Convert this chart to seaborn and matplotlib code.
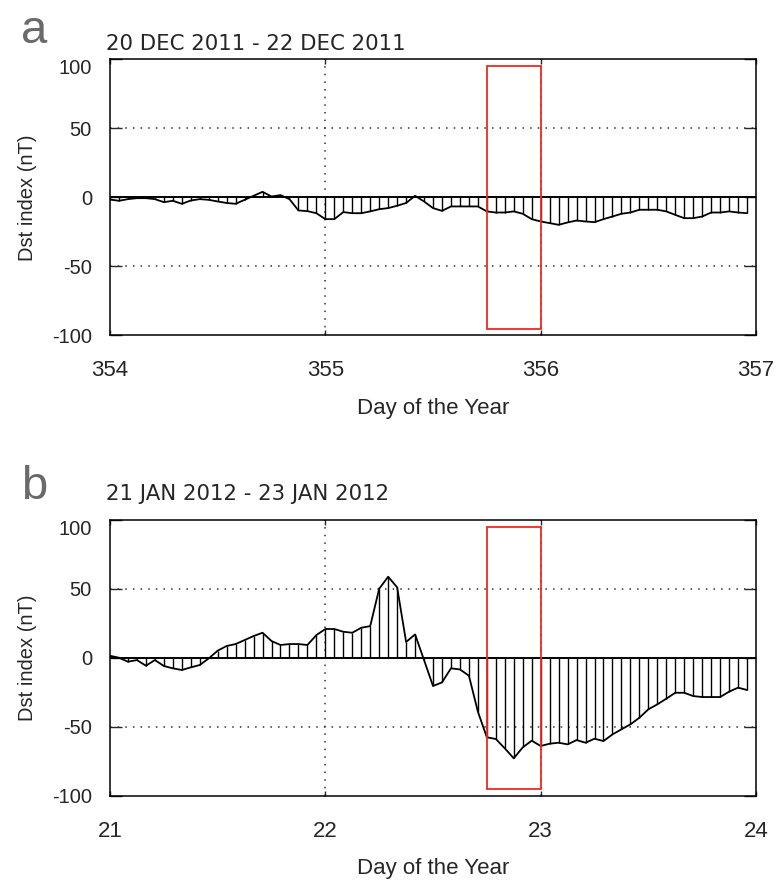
import numpy as np
import pandas as pd
import matplotlib
matplotlib.use("Agg")
from matplotlib import pyplot as plt
from matplotlib import font_manager
from matplotlib.patches import Rectangle
import seaborn as sns

# ------------------------------------------------------------
# Hourly Dst index (nT)
# ------------------------------------------------------------
DEC_START_DAY = 354
JAN_START_DAY = 21

dst_dec = [
    -1.5, -2.4, -1.2, -0.5, -0.5, -1.2, -3.4, -2.4, -4.6, -2.2, -1.2, -1.7,
    -2.9, -4.0, -4.6, -1.7, 1.2, 4.1, 0.7, 1.7, -1.2, -9.4, -9.9, -11.4,
    -15.7, -15.7, -10.6, -11.4, -11.4, -10.1, -8.5, -7.7, -6.0, -4.0, 1.2, -2.9,
    -7.7, -9.7, -6.5, -6.5, -6.5, -6.5, -10.1, -10.9, -10.9, -10.1, -11.8, -15.7,
    -17.4, -18.6, -19.8, -18.1, -16.7, -17.4, -17.9, -15.7, -13.8, -11.8, -10.9, -8.9,
    -8.9, -8.9, -10.1, -12.6, -15.0, -15.0, -13.8, -10.9, -10.9, -10.1, -10.9, -11.4,
]

dst_jan = [
    1.4, 0.0, -2.9, -1.7, -5.8, -1.7, -6.0, -7.7, -8.9, -7.0, -5.3, -0.5,
    5.1, 8.5, 9.9, 12.8, 15.7, 18.1, 12.1, 9.2, 9.9, 9.9, 9.2, 16.4,
    20.8, 20.8, 18.8, 18.1, 21.7, 22.9, 50.0, 58.7, 51.0, 11.4, 16.9, -1.7,
    -20.5, -17.9, -7.7, -8.5, -13.0, -39.1, -57.7, -58.9, -65.7, -72.9, -65.0, -60.1,
    -64.0, -62.3, -61.6, -62.8, -59.7, -61.6, -58.7, -60.4, -55.6, -51.9, -48.3, -43.5,
    -37.4, -33.8, -29.7, -25.4, -25.4, -27.8, -28.5, -28.5, -28.5, -24.6, -21.7, -23.4,
]

panel_letters = ["a", "b"]
panel_titles = ["20 DEC 2011 - 22 DEC 2011", "21 JAN 2012 - 23 JAN 2012"]
start_days = [DEC_START_DAY, JAN_START_DAY]
y_ticks = [-100, -50, 0, 50, 100]
# highlighted window: last quarter of the second day
box_start_offset = 1.75
box_end_offset = 2.0
box_ymin, box_ymax = -95, 95

RED = "#ec2a22"
GREY_LETTER = "#6a6a6a"

sns.set_style("white")
plt.rcParams["font.family"] = ["Liberation Sans", "DejaVu Sans"]

# narrow face for the y tick labels, if it is installed
installed = {f.name for f in font_manager.fontManager.ttflist}
if "Liberation Sans Narrow" in installed:
    Y_TICK_FONT, Y_TICK_SIZE = "Liberation Sans Narrow", 16
else:
    Y_TICK_FONT, Y_TICK_SIZE = "Liberation Sans", 14.5


def hourly_frame(start_day, values):
    hours = np.arange(len(values))
    return pd.DataFrame({"day": start_day + hours / 24.0, "dst": values})


def draw_panel(ax, df, start_day):
    # stems from zero to each hourly value
    ax.vlines(df["day"], 0, df["dst"], color="black", linewidth=1.0, zorder=3)
    sns.lineplot(data=df, x="day", y="dst", ax=ax, color="black",
                 linewidth=1.3, zorder=4)
    ax.axhline(0, color="black", linewidth=1.4, zorder=3)

    days = [start_day + i for i in range(4)]
    for d in days[1:3]:
        ax.axvline(d, color="#333333", linewidth=1.1, linestyle=(0, (1, 4)), zorder=1)
    for y in (-50, 50):
        ax.axhline(y, color="#333333", linewidth=1.1, linestyle=(0, (1, 4)), zorder=1)

    ax.add_patch(Rectangle((start_day + box_start_offset, box_ymin),
                           box_end_offset - box_start_offset, box_ymax - box_ymin,
                           fill=False, edgecolor=RED, linewidth=1.3, zorder=5))

    ax.set_xlim(days[0], days[-1])
    ax.set_ylim(-100, 100)
    ax.set_xticks(days)
    ax.set_xticklabels([str(d) for d in days])
    ax.set_yticks(y_ticks)
    ylabels = ax.set_yticklabels([str(v) for v in y_ticks], family=Y_TICK_FONT)
    ylabels[-1].set_va("top")  # top label sits just under the frame
    ax.tick_params(axis="x", direction="in", length=3.6, width=1.0,
                   top=True, bottom=True, pad=18, labelsize=16)
    ax.tick_params(axis="y", direction="in", length=8.6, width=1.0,
                   left=True, right=True, pad=13, labelsize=Y_TICK_SIZE)
    for s in ax.spines.values():
        s.set_visible(True)
        s.set_color("black")
        s.set_linewidth(1.1)
    ax.set_xlabel("Day of the Year", fontsize=16, labelpad=12)
    ax.set_ylabel("Dst index (nT)", fontsize=14.5, labelpad=11)


fig = plt.figure(figsize=(7.77, 8.80), dpi=100)
ax_a = fig.add_axes([0.1416, 0.6188, 0.8314, 0.3136])
ax_b = fig.add_axes([0.1416, 0.0958, 0.8314, 0.3136])

for ax, values, start, letter, title, base, letter_base in zip(
        [ax_a, ax_b], [dst_dec, dst_jan], start_days, panel_letters, panel_titles,
        [0.943, 0.432], [0.951, 0.433]):
    draw_panel(ax, hourly_frame(start, values), start)
    fig.text(0.137, base, title, fontsize=15.3, ha="left", va="baseline",
             family=["DejaVu Sans"])
    fig.text(0.027, letter_base, letter, fontsize=34, color=GREY_LETTER,
             ha="left", va="baseline")

fig.savefig("out.png", dpi=100)
plt.close(fig)
